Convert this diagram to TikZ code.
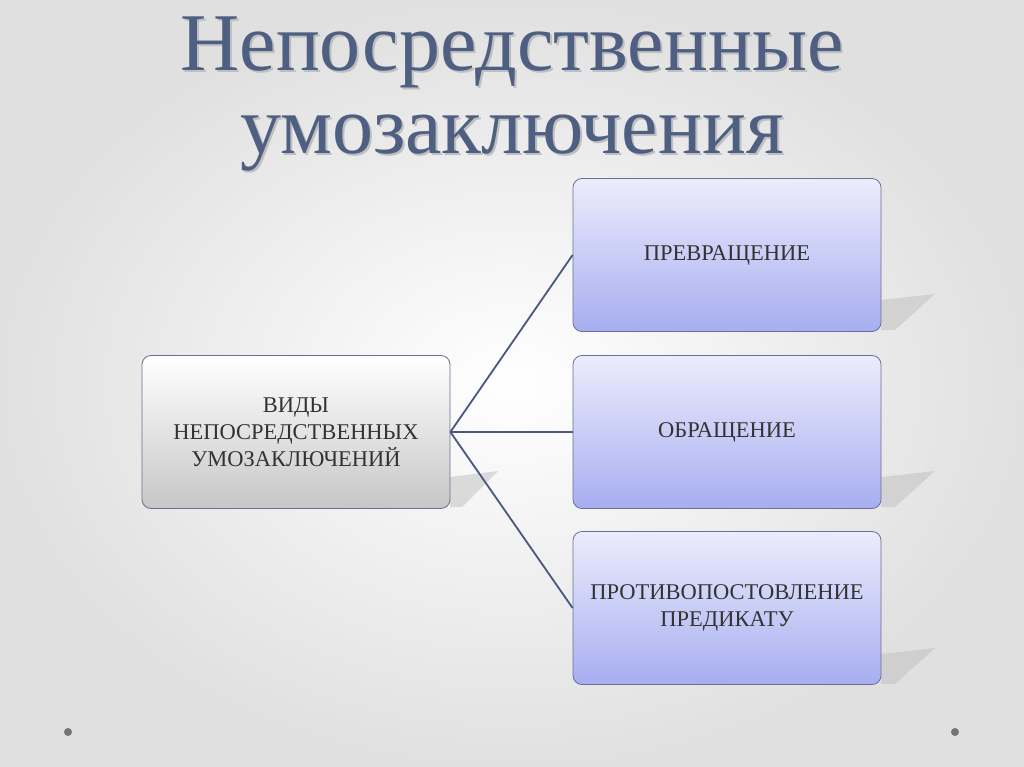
\documentclass[tikz,border=0pt]{standalone}
\usepackage{fontspec}
\setmainfont{Liberation Serif}
\usetikzlibrary{shadings}
\definecolor{titlec}{HTML}{4E5F82}
\definecolor{linec}{HTML}{4A5684}
\definecolor{bordc}{HTML}{6A7090}
\definecolor{bluetop}{HTML}{ECECFC}
\definecolor{bluebot}{HTML}{A7AEF0}
\tikzset{
  box/.style={draw=bordc, line width=0.8pt, rounded corners=9pt, minimum width=308pt, minimum height=153pt, align=center, font=\fontsize{22.5}{27}\selectfont, text=black!80},
  bluebox/.style={box, top color=bluetop, bottom color=bluebot},
  graybox/.style={box, top color=white, bottom color=black!22},
  conn/.style={draw=linec, line width=1.8pt},
  shad/.style={fill=black!25, opacity=0.5},
  ttl/.style={font=\fontsize{82}{83}\selectfont, align=center},
}
\begin{document}
\begin{tikzpicture}[x=1pt,y=-1pt]
\useasboundingbox (0,0) rectangle (1024,767);
\shade[inner color=white, outer color=black!12] (0,0) rectangle (1024,767);
% title
\node[ttl, text=black!25] at (514,96) {Непосредственные\\умозаключения};
\node (title) [ttl, text=titlec] at (512,94) {Непосредственные\\умозаключения};
% shadows
\foreach \y in {300,477,654}{
  \fill[shad] (881,\y) -- (935,\y-6) -- (895,\y+30) -- (881,\y+30) -- cycle;
}
\fill[shad] (450,477) -- (498,471) -- (462,507) -- (450,507) -- cycle;
\node (src) [graybox] at (296,432) {ВИДЫ\\НЕПОСРЕДСТВЕННЫХ\\УМОЗАКЛЮЧЕНИЙ};
\node (b1) [bluebox] at (727,255) {ПРЕВРАЩЕНИЕ};
\node (b2) [bluebox] at (727,432) {ОБРАЩЕНИЕ};
\node (b3) [bluebox] at (727,608) {ПРОТИВОПОСТОВЛЕНИЕ\\ПРЕДИКАТУ};
\foreach \b in {b1,b2,b3} \draw[conn] (src.east) -- (\b.west);
\fill[black!55] (68,732) circle (4);
\fill[black!55] (955,732) circle (4);
\end{tikzpicture}
\end{document}
